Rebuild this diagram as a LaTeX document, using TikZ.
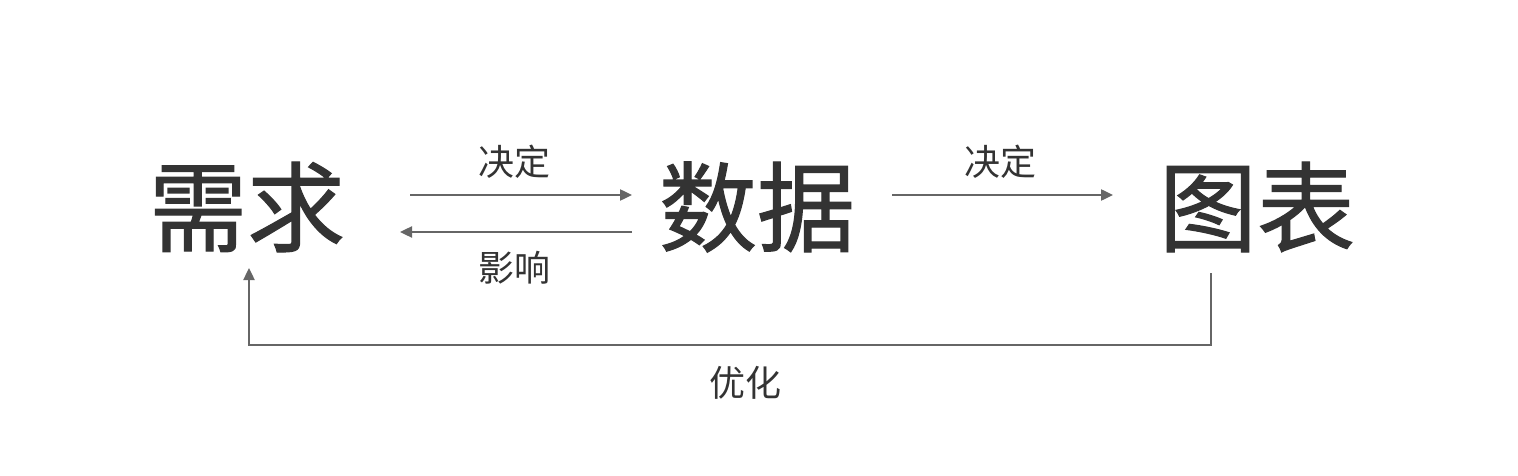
\documentclass[tikz,border=0pt]{standalone}
\usepackage{fontspec}
\newfontfamily\cjk{Noto Sans CJK SC}
\newfontfamily\cjkb{Noto Sans CJK SC}[FakeBold=1.2]
\usetikzlibrary{arrows.meta}
\definecolor{txt}{HTML}{333333}
\definecolor{ln}{HTML}{666666}
\begin{document}
\begin{tikzpicture}[x=1pt,y=-1pt,
  big/.style={font=\cjkb\fontsize{98}{98}\selectfont, text=txt, inner sep=0pt},
  lab/.style={font=\cjk\fontsize{36}{36}\selectfont, text=txt, inner sep=0pt},
  conn/.style={draw=ln, line width=2.4pt, -{Triangle[length=12pt,width=11pt]}}]
\useasboundingbox (0,0) rectangle (1518,476);
\node[big] (xq) at (247,207) {需求};
\node[big] (sj) at (757,207) {数据};
\node[big] (tb) at (1257,207) {图表};
\node[lab] (jd1) at (514,162) {决定};
\node[lab] (jd2) at (1000,162) {决定};
\node[lab] (yx) at (514,268) {影响};
\node[lab] (yh) at (745,383) {优化};
\coordinate (a1s) at (410,195); \coordinate (a1e) at (632,195);
\coordinate (a2s) at (632,232); \coordinate (a2e) at (400,232);
\coordinate (a3s) at (892,195); \coordinate (a3e) at (1113,195);
\coordinate (fbs) at (1211,273); \coordinate (fbe) at (249,268);
\draw[conn] (a1s) -- (a1e);
\draw[conn] (a2s) -- (a2e);
\draw[conn] (a3s) -- (a3e);
\draw[conn] (fbs) -- (1211,345) -- (249,345) -- (fbe);
\end{tikzpicture}
\end{document}
